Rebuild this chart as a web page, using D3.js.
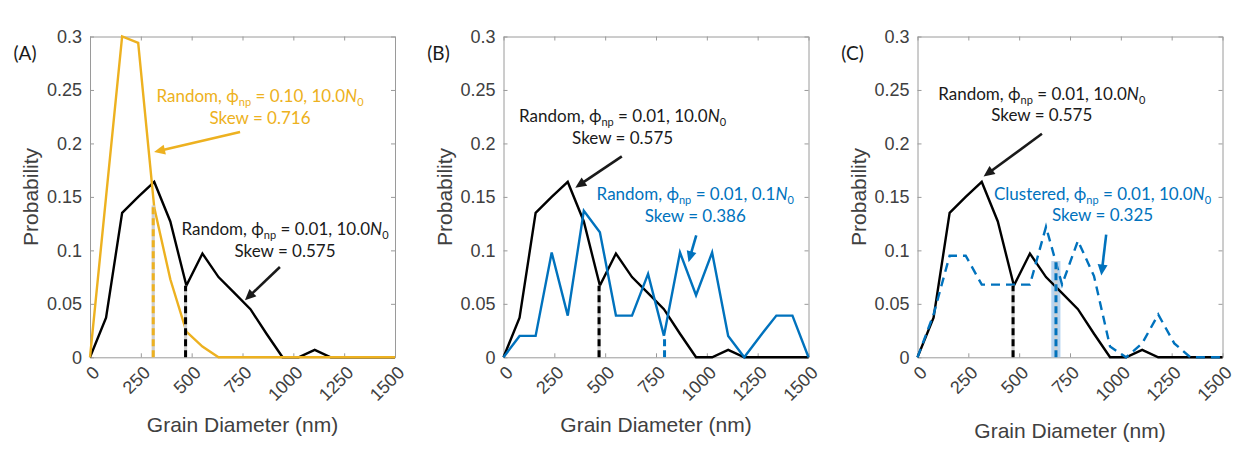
<!DOCTYPE html>
<html>
<head>
<meta charset="utf-8">
<script src="https://cdn.jsdelivr.net/npm/d3@7/dist/d3.min.js"></script>
<style>
  body { margin: 0; background: #fff; }
  svg { display: block; }
</style>
</head>
<body>
<svg id="fig" width="1245" height="450"></svg>
<script>
// grain diameter bins (nm) shared by every curve
const grainNm = [0, 79, 158, 237, 316, 395, 474, 553, 632, 711, 789, 868, 947, 1026, 1105, 1184, 1263, 1342, 1421, 1500];

// probability per bin
const randomPhi001N10 = [0, 0.037, 0.135, 0.150, 0.164, 0.127, 0.067, 0.097, 0.075, 0.060, 0.045, 0.022, 0, 0, 0.007, 0, 0, 0, 0, 0];
const randomPhi010N10 = [0, 0.150, 0.300, 0.294, 0.140, 0.073, 0.024, 0.010, 0, 0, 0, 0, 0, 0, 0, 0, 0, 0, 0, 0];
const randomPhi001N01 = [0, 0.020, 0.020, 0.098, 0.039, 0.137, 0.117, 0.039, 0.039, 0.078, 0.020, 0.098, 0.058, 0.098, 0.020, 0, 0.020, 0.039, 0.039, 0];
const clusteredPhi001N10 = [0, 0.040, 0.095, 0.095, 0.068, 0.068, 0.068, 0.068, 0.122, 0.068, 0.109, 0.076, 0.010, 0, 0.013, 0.040, 0.013, 0, 0, 0];

// vertical markers: [diameter, height]
const markerPhi001N10 = [470, 0.067];
const markerPhi010N10 = [311, 0.142];
const markerPhi001N01 = [792, 0.020];
const markerClustered = [681, 0.090];
const clusteredBand = [658, 703];

const xTicks = [0, 250, 500, 750, 1000, 1250, 1500];
const yTicks = [0, 0.05, 0.1, 0.15, 0.2, 0.25, 0.3];
const yTickLabels = ["0", "0.05", "0.1", "0.15", "0.2", "0.25", "0.3"];
const panelLabels = ["(A)", "(B)", "(C)"];

const BLACK = "#000000", YELLOW = "#EDB120", BLUE = "#0072BD";

const W = 305, TOP = 36.5, BOTTOM = 357.3;

// each note: text anchor (nm, prob), arrow tail -> tip in (nm, prob)
const panels = [
  {
    left: 90, xLabelY: 432,
    series: [
      { values: randomPhi001N10, color: BLACK },
      { values: randomPhi010N10, color: YELLOW }
    ],
    markers: [
      { m: markerPhi010N10, color: YELLOW },
      { m: markerPhi001N10, color: BLACK }
    ],
    notes: [
      { kind: "Random", phi: "0.10", n: "10.0", skew: "0.716", color: YELLOW, at: [836, 0.2386], tail: [738, 0.2106], tip: [315, 0.192] },
      { kind: "Random", phi: "0.01", n: "10.0", skew: "0.575", color: "#1a1a1a", at: [959, 0.114], tail: [934, 0.0844], tip: [762, 0.0533] }
    ]
  },
  {
    left: 503.5, xLabelY: 432,
    series: [
      { values: randomPhi001N10, color: BLACK },
      { values: randomPhi001N01, color: BLUE }
    ],
    markers: [
      { m: markerPhi001N10, color: BLACK },
      { m: markerPhi001N01, color: BLUE }
    ],
    notes: [
      { kind: "Random", phi: "0.01", n: "10.0", skew: "0.575", color: "#1a1a1a", at: [586, 0.22], tail: [582, 0.1879], tip: [353, 0.1586] },
      { kind: "Random", phi: "0.01", n: "0.1", skew: "0.386", color: BLUE, at: [943, 0.1467], tail: [948, 0.114], tip: [910, 0.089] }
    ]
  },
  {
    left: 917.5, xLabelY: 438,
    series: [
      { values: randomPhi001N10, color: BLACK },
      { values: clusteredPhi001N10, color: BLUE, dash: "9 6" }
    ],
    band: clusteredBand,
    markers: [
      { m: markerPhi001N10, color: BLACK },
      { m: markerClustered, color: BLUE }
    ],
    notes: [
      { kind: "Random", phi: "0.01", n: "10.0", skew: "0.575", color: "#1a1a1a", at: [611, 0.2408], tail: [612, 0.209], tip: [325, 0.169] },
      { kind: "Clustered", phi: "0.01", n: "10.0", skew: "0.325", color: BLUE, at: [910, 0.1474], tail: [928, 0.1147], tip: [904, 0.0764] }
    ]
  }
];

const svg = d3.select("#fig");
const NOTE_FONT = "Lato, 'Open Sans', sans-serif";
const AXIS_FONT = "'Liberation Sans', Arial, sans-serif";

panels.forEach((p, i) => {
  const x = d3.scaleLinear().domain([0, 1500]).range([p.left, p.left + W]);
  const y = d3.scaleLinear().domain([0, 0.3]).range([BOTTOM, TOP]);
  const g = svg.append("g");

  // box + inside ticks on all four sides
  const axes = [
    [d3.axisBottom(x).tickValues(xTicks), `translate(0,${BOTTOM})`],
    [d3.axisTop(x).tickValues(xTicks), `translate(0,${TOP})`],
    [d3.axisLeft(y).tickValues(yTicks), `translate(${p.left},0)`],
    [d3.axisRight(y).tickValues(yTicks), `translate(${p.left + W},0)`]
  ];
  axes.forEach(([ax, tr]) => {
    const a = g.append("g")
      .attr("transform", tr)
      .call(ax.tickSize(-4).tickSizeOuter(0).tickFormat(""));
    a.select(".domain").attr("stroke", "#9a9a9a");
    a.selectAll(".tick line").attr("stroke", "#9a9a9a");
  });

  // y tick labels
  g.selectAll(".ylab")
    .data(yTicks)
    .join("text")
    .attr("x", p.left - 8)
    .attr("y", (d) => y(d))
    .attr("dy", "0.35em")
    .attr("text-anchor", "end")
    .attr("font-family", AXIS_FONT)
    .attr("font-size", 18)
    .attr("fill", "#404040")
    .text((d, k) => yTickLabels[k]);

  // x tick labels, rotated 45 degrees
  g.selectAll(".xlab")
    .data(xTicks)
    .join("text")
    .attr("transform", (d) => `translate(${x(d) + 6},${BOTTOM + 12}) rotate(-45)`)
    .attr("dy", "0.35em")
    .attr("text-anchor", "end")
    .attr("font-family", AXIS_FONT)
    .attr("font-size", 18)
    .attr("fill", "#404040")
    .text((d) => d);

  g.append("text")
    .attr("x", p.left + W / 2)
    .attr("y", p.xLabelY)
    .attr("text-anchor", "middle")
    .attr("font-family", AXIS_FONT)
    .attr("font-size", 21)
    .attr("fill", "#404040")
    .text("Grain Diameter (nm)");

  g.append("text")
    .attr("transform", `translate(${p.left - 59},${(TOP + BOTTOM) / 2}) rotate(-90)`)
    .attr("dy", "0.35em")
    .attr("text-anchor", "middle")
    .attr("font-family", AXIS_FONT)
    .attr("font-size", 21)
    .attr("fill", "#404040")
    .text("Probability");

  g.append("text")
    .attr("x", p.left - 65)
    .attr("y", 60)
    .attr("text-anchor", "middle")
    .attr("font-family", NOTE_FONT)
    .attr("font-size", 19)
    .attr("fill", "#1a1a1a")
    .text(panelLabels[i]);

  // shaded band (panel C)
  if (p.band) {
    g.append("rect")
      .attr("x", x(p.band[0]))
      .attr("y", y(markerClustered[1]))
      .attr("width", x(p.band[1]) - x(p.band[0]))
      .attr("height", y(0) - y(markerClustered[1]))
      .attr("fill", "#a9cdee")
      .attr("opacity", 0.85);
  }

  const line = d3.line()
    .x((d, k) => x(grainNm[k]))
    .y((d) => y(d));

  p.series.forEach((s) => {
    g.append("path")
      .datum(s.values)
      .attr("d", line)
      .attr("fill", "none")
      .attr("stroke", s.color)
      .attr("stroke-width", 2.4)
      .attr("stroke-linejoin", "miter")
      .attr("stroke-dasharray", s.dash || null);
  });

  // dashed markers (light under-stroke + coloured dashes)
  p.markers.forEach((mk) => {
    const [mx, mh] = mk.m;
    g.append("line")
      .attr("x1", x(mx)).attr("x2", x(mx))
      .attr("y1", y(0)).attr("y2", y(mh))
      .attr("stroke", mk.color === BLUE && !p.band ? "#ffffff" : "#cfcfcf")
      .attr("stroke-width", 3.2);
    g.append("line")
      .attr("x1", x(mx)).attr("x2", x(mx))
      .attr("y1", y(0)).attr("y2", y(mh))
      .attr("stroke", mk.color)
      .attr("stroke-width", 3)
      .attr("stroke-dasharray", "7 4");
  });

  // annotations
  p.notes.forEach((n) => {
    const t = g.append("text")
      .attr("x", x(n.at[0]))
      .attr("y", y(n.at[1]))
      .attr("text-anchor", "middle")
      .attr("font-family", NOTE_FONT)
      .attr("font-size", 17)
      .attr("fill", n.color);
    t.append("tspan").text(`${n.kind}, ϕ`);
    t.append("tspan").attr("font-size", 11).attr("dy", 4).text("np");
    t.append("tspan").attr("dy", -4).text(` = ${n.phi}, ${n.n}`);
    t.append("tspan").attr("font-style", "italic").text("N");
    t.append("tspan").attr("font-size", 11).attr("dy", 4).text("0");

    g.append("text")
      .attr("x", x(n.at[0]))
      .attr("y", y(n.at[1]) + 21.5)
      .attr("text-anchor", "middle")
      .attr("font-family", NOTE_FONT)
      .attr("font-size", 17)
      .attr("fill", n.color)
      .text(`Skew = ${n.skew}`);

    const x1 = x(n.tail[0]), y1 = y(n.tail[1]);
    const x2 = x(n.tip[0]), y2 = y(n.tip[1]);
    const ang = Math.atan2(y2 - y1, x2 - x1);
    const hl = 11, hw = 5;
    const bx = x2 - hl * Math.cos(ang), by = y2 - hl * Math.sin(ang);
    g.append("line")
      .attr("x1", x1).attr("y1", y1)
      .attr("x2", bx + 2 * Math.cos(ang)).attr("y2", by + 2 * Math.sin(ang))
      .attr("stroke", n.color)
      .attr("stroke-width", 2.6);
    g.append("path")
      .attr("d", d3.line()([
        [x2, y2],
        [bx + hw * Math.sin(ang), by - hw * Math.cos(ang)],
        [bx - hw * Math.sin(ang), by + hw * Math.cos(ang)]
      ]) + "Z")
      .attr("fill", n.color);
  });
});
</script>
</body>
</html>
